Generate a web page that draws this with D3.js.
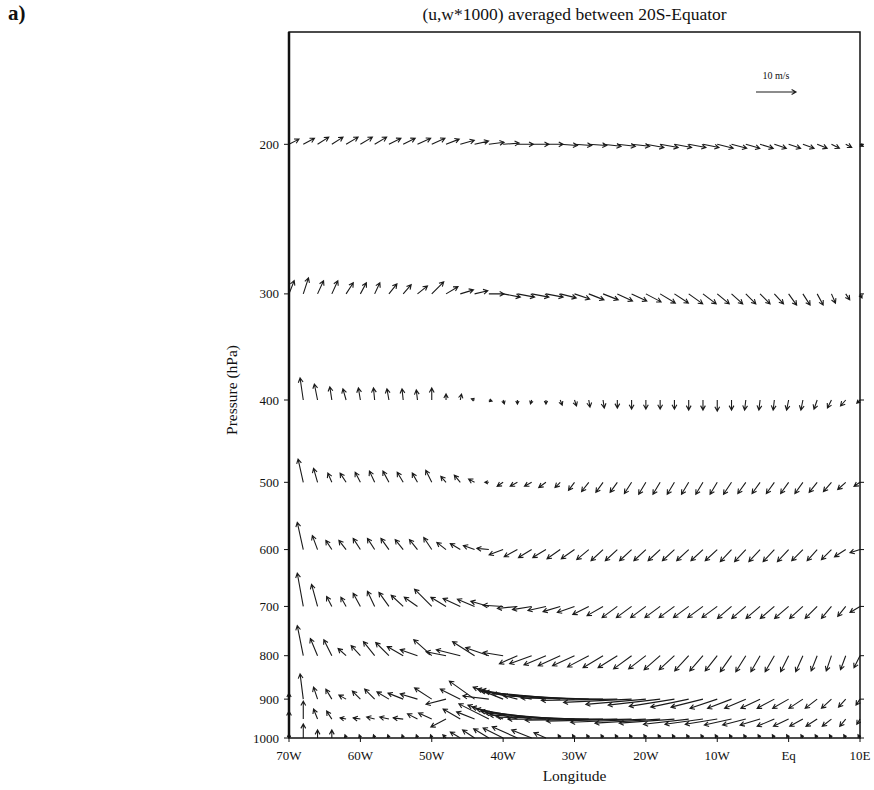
<!DOCTYPE html>
<html>
<head>
<meta charset="utf-8">
<script src="https://cdn.jsdelivr.net/npm/d3@7"></script>
<style>
  body { margin: 0; background: #fff; }
  svg text { font-family: "Liberation Serif", "Times New Roman", serif; fill: #111; }
</style>
</head>
<body>
<div id="chart"></div>
<script>
// grid: longitudes (deg, negative = west) and pressure levels (hPa)
const lons = d3.range(-70, 11, 2);
const levels = [200, 300, 400, 500, 600, 700, 800, 900, 950, 1000];

const xTicks = [-70, -60, -50, -40, -30, -20, -10, 0, 10];
const xTickLabels = ["70W", "60W", "50W", "40W", "30W", "20W", "10W", "Eq", "10E"];
const yTicks = [200, 300, 400, 500, 600, 700, 800, 900, 1000];

// u (m/s) and w*1000 for each level, 70W -> 10E
const u200 = [2.5,2.8,2.8,2.8,3.0,3.0,3.0,3.0,3.0,3.3, 3.3,3.3,3.5,3.5,3.8,4.0,4.0,4.3,4.3,4.3, 4.3,4.5,4.5,4.5,4.5,4.5,4.5,4.3,4.3,4.0, 4.0,3.8,3.5,3.3,3.0,3.0,2.8,2.5,2.0,1.5,0.8];
const w200 = [1.3,1.5,1.8,1.8,1.8,1.8,1.8,1.5,1.5,1.5, 1.5,1.3,1.0,0.8,0.5,0.3,0,0,0,-0.3, -0.3,-0.3,-0.5,-0.5,-0.5,-0.8,-0.8,-0.8,-0.8,-0.8, -1.0,-1.0,-1.0,-1.0,-1.0,-1.0,-1.0,-1.0,-1.0,-0.8,-0.5];

const u300 = [1.3,1.3,1.5,1.5,1.8,1.5,1.3,2.0,2.0,2.5, 3.0,3.0,3.3,3.3,3.8,4.3,4.3,4.3,4.3,4.0, 3.8,3.8,3.8,3.8,3.8,3.8,3.8,3.5,3.5,3.3, 3.0,2.8,2.5,2.5,2.3,2.0,1.8,1.5,1.0,1.0,0.5];
const w300 = [3.3,4.0,3.3,3.3,2.8,2.8,2.8,2.5,2.3,2.0, 3.0,1.8,1.0,0.8,0,-0.8,-0.8,-0.8,-0.8,-1.0, -1.3,-1.5,-1.5,-1.8,-1.8,-2.0,-2.3,-2.3,-2.5,-2.5, -2.5,-2.5,-2.5,-2.5,-2.5,-2.8,-2.8,-2.8,-2.3,-1.5,-1.0];

const u400 = [0,-0.8,-0.8,-0.5,-0.8,-0.5,-0.3,-0.5,-0.3,-0.3, 0,0,0.3,-0.8,0.8,0.3,0,-0.3,0,0.5, 0.5,0.3,0.3,0,0,0,0,0,0,0, 0,0,-0.3,-0.3,-0.3,-0.5,-0.5,-0.8,-1.0,-1.3,-0.8];
const w400 = [0,5.5,4.0,3.3,2.8,3.0,3.0,2.8,2.8,2.5, 3.0,1.5,1.5,0.3,-0.3,-1.0,-1.0,-1.0,-1.0,-1.3, -1.5,-1.8,-2.0,-2.0,-2.3,-2.3,-2.3,-2.3,-2.5,-2.5, -2.8,-2.5,-2.5,-2.5,-2.5,-2.5,-2.5,-2.3,-2.0,-1.5,-0.8];

const u500 = [0,-1.3,-1.0,-1.0,-1.5,-1.3,-1.3,-1.5,-1.5,-1.3, -1.5,-1.3,-1.5,-1.5,-1.0,-1.5,-1.8,-1.8,-1.8,-1.3, -1.5,-1.8,-1.8,-1.8,-1.8,-1.8,-1.8,-1.8,-1.8,-1.8, -1.8,-2.0,-2.0,-2.0,-2.0,-2.0,-2.0,-2.0,-2.0,-2.0,-1.5];
const w500 = [0,5.8,3.5,2.3,2.3,2.5,2.8,2.8,2.5,2.3, 3.0,1.5,1.8,0.8,0,-1.0,-1.0,-1.0,-1.3,-1.3, -2.0,-2.3,-2.5,-2.5,-2.8,-3.0,-3.0,-3.0,-3.0,-3.0, -3.0,-3.0,-2.8,-2.8,-2.8,-2.8,-2.8,-2.5,-2.3,-1.8,-1.0];

const u600 = [0,-1.5,-1.3,-1.5,-1.8,-1.8,-1.8,-2.0,-2.0,-2.0, -2.0,-2.3,-2.5,-2.8,-3.0,-3.5,-3.3,-3.3,-3.3,-3.3, -3.3,-3.0,-3.0,-3.0,-3.0,-3.0,-3.0,-3.0,-3.0,-3.0, -3.0,-2.8,-2.8,-2.8,-2.8,-2.8,-2.8,-2.5,-2.5,-2.8,-2.5];
const w600 = [0,6.8,3.5,2.3,2.3,2.8,2.8,2.8,2.5,2.5, 3.0,1.8,1.5,1.0,0.3,-1.3,-1.8,-2.0,-2.0,-2.3, -2.3,-2.5,-2.8,-2.8,-2.8,-2.8,-2.8,-2.8,-2.8,-2.8, -2.8,-3.0,-3.0,-3.0,-3.0,-3.0,-2.8,-2.8,-2.5,-1.8,-0.8];

const u700 = [0,-1.5,-1.5,-1.3,-1.3,-1.8,-1.8,-2.5,-3.0,-3.3, -4.3,-3.8,-4.3,-4.3,-4.5,-5.0,-5.0,-4.8,-4.5,-4.3, -4.3,-4.0,-4.0,-3.8,-3.8,-3.8,-3.8,-3.8,-3.8,-3.8, -3.8,-3.5,-3.5,-3.5,-3.5,-3.5,-3.3,-3.0,-2.5,-2.0,-2.5];
const w700 = [0,8.3,5.5,2.5,2.3,3.3,3.8,3.5,2.8,2.3, 4.3,2.3,2.0,1.8,1.3,0.3,-0.5,-0.8,-1.0,-1.3, -1.5,-2.0,-2.3,-2.8,-2.8,-2.8,-2.8,-2.8,-2.8,-2.8, -2.8,-3.0,-3.0,-3.0,-3.0,-3.0,-3.0,-3.0,-3.0,-2.5,-1.5];

const u800 = [0,-1.5,-1.8,-2.0,-2.0,-2.3,-2.8,-3.3,-4.0,-4.3, -4.5,-5.0,-6.0,-5.5,-5.8,-5.0,-4.5,-5.5,-5.5,-5.5, -5.5,-5.3,-5.0,-4.8,-4.5,-4.3,-4.0,-3.8,-3.5,-3.3, -3.0,-2.8,-2.5,-2.3,-2.3,-2.0,-1.8,-1.5,-1.3,-1.3,-1.5];
const w800 = [0,7.5,4.3,4.0,1.8,2.5,3.5,3.3,2.3,1.5, 4.0,1.0,1.5,3.5,2.0,0.8,-2.0,-2.0,-2.3,-2.5, -2.5,-2.8,-3.0,-3.0,-3.3,-3.3,-3.5,-3.5,-3.8,-3.8, -3.8,-4.0,-4.0,-4.0,-4.0,-4.0,-4.0,-3.8,-3.8,-3.5,-3.0];

const u900 = [0,-0.8,-1.0,-1.5,-1.8,-2.0,-2.5,-3.0,-3.8,-4.3, -4.3,-5.0,-5.0,-6.3,-6.5,-7.5,-10.0,-12.5,-16.3,-18.8, -20.5,-21.3,-20.5,-19.0,-17.0,-15.0,-13.0,-11.3,-9.5,-8.0, -6.8,-6.0,-5.3,-4.8,-4.3,-4.0,-3.5,-3.0,-2.5,-1.8,-1.0];
const w900 = [1.5,6.3,3.0,2.5,1.0,2.0,2.5,1.8,1.5,1.3, 2.8,-1.3,2.5,4.5,0.8,3.0,2.5,2.3,2.0,1.8, 1.3,0.8,0.3,-0.3,-0.8,-1.3,-1.5,-1.8,-2.0,-2.0, -2.3,-2.3,-2.3,-2.3,-2.3,-2.3,-2.3,-2.3,-2.3,-2.0,-1.5];

const u950 = [0,0,-1.0,-1.3,-1.5,-1.8,-2.0,-2.3,-2.5,-2.5, -3.3,-3.8,-4.3,-4.5,-7.5,-8.8,-11.3,-13.8,-16.3,-18.8, -21.3,-23.0,-23.8,-23.0,-21.3,-18.8,-16.3,-13.8,-11.3,-9.5, -8.0,-6.8,-5.8,-5.0,-4.3,-3.8,-3.3,-2.8,-2.3,-1.5,-0.8];
const w950 = [2.0,4.5,2.5,2.0,0.3,0.3,0.5,0.5,0.3,1.3, 1.5,-2.0,2.5,1.8,3.8,3.5,3.0,2.5,2.0,1.5, 1.0,0.5,0,-0.3,-0.5,-0.8,-1.0,-1.0,-1.3,-1.3, -1.3,-1.5,-1.5,-1.5,-1.8,-1.8,-1.8,-1.8,-1.8,-1.8,-1.3];

const u1000 = [0,0,0,0,-0.3,-0.3,-0.3,-0.3,-0.3,-0.3, -0.3,-0.8,-2.5,-3.0,-3.8,-5.0,-6.3,-5.0,-3.0,-0.5, -0.5,-0.5,-0.5,-0.5,-0.5,-0.5,-0.5,-0.5,-0.5,-0.5, -0.5,-0.5,-0.5,-0.5,-0.5,-0.5,-0.5,-0.5,-0.5,-0.5,-0.5];
const w1000 = [1.0,3.5,2.0,2.0,0.8,0.8,0.8,0.8,0.8,0.8, 0.8,0.8,1.5,2.0,2.3,2.5,2.8,2.0,1.3,0.8, 0.8,0.8,0.8,0.8,0.8,0.8,0.8,0.8,0.8,0.8, 0.8,0.8,0.8,0.8,0.8,0.8,0.8,0.8,0.8,0.8,0.8];

const uByLevel = [u200, u300, u400, u500, u600, u700, u800, u900, u950, u1000];
const wByLevel = [w200, w300, w400, w500, w600, w700, w800, w900, w950, w1000];

const refSpeed = 10;

const width = 874, height = 790;
const margin = { left: 289, right: 14, top: 32, bottom: 52 };

const svg = d3.select("#chart").append("svg")
    .attr("width", width)
    .attr("height", height);

const x = d3.scaleLinear().domain([-70, 10]).range([margin.left, width - margin.right]);
const y = d3.scaleLog().domain([1000, 147.5]).range([height - margin.bottom, margin.top]);
// vector length: pixels per m/s (same for w*1000)
const vScale = d3.scaleLinear().domain([0, refSpeed]).range([0, 40]);

// build vector list
const vectors = [];
levels.forEach((p, li) => {
    lons.forEach((lon, i) => {
        vectors.push({ lon, p, u: uByLevel[li][i], w: wByLevel[li][i] });
    });
});

function arrowPath(x0, y0, dx, dy) {
    const len = Math.hypot(dx, dy);
    if (len < 0.8) return "";
    const x1 = x0 + dx, y1 = y0 + dy;
    const h = Math.min(5, 0.5 * len + 1.5);
    const a = Math.atan2(dy, dx);
    const sp = 0.5;
    const ax = x1 - h * Math.cos(a - sp), ay = y1 - h * Math.sin(a - sp);
    const bx = x1 - h * Math.cos(a + sp), by = y1 - h * Math.sin(a + sp);
    return `M${x0},${y0}L${x1},${y1}M${ax},${ay}L${x1},${y1}L${bx},${by}`;
}

// vectors
svg.append("g")
    .selectAll("path")
    .data(vectors)
    .enter()
    .append("path")
    .attr("d", d => arrowPath(x(d.lon), y(d.p), vScale(d.u), -vScale(d.w)))
    .attr("fill", "none")
    .attr("stroke", "#1a1a1a")
    .attr("stroke-width", 1.1);

// frame
const x0 = x(-70), x1 = x(10), yTop = y(147.5), yBot = y(1000);
svg.append("rect")
    .attr("x", x0).attr("y", yTop)
    .attr("width", x1 - x0).attr("height", yBot - yTop)
    .attr("fill", "none")
    .attr("stroke", "#111")
    .attr("stroke-width", 1.5);
svg.append("line")
    .attr("x1", x0).attr("x2", x0).attr("y1", yTop).attr("y2", yBot)
    .attr("stroke", "#111").attr("stroke-width", 2.5);

// y axis ticks / labels
const yAxis = svg.append("g");
yAxis.selectAll("line.l").data(yTicks).enter().append("line")
    .attr("x1", x0 - 5).attr("x2", x0)
    .attr("y1", d => y(d)).attr("y2", d => y(d))
    .attr("stroke", "#111").attr("stroke-width", 1);
yAxis.selectAll("line.r").data(yTicks).enter().append("line")
    .attr("x1", x1).attr("x2", x1 + 4)
    .attr("y1", d => y(d)).attr("y2", d => y(d))
    .attr("stroke", "#111").attr("stroke-width", 1);
yAxis.selectAll("text").data(yTicks).enter().append("text")
    .attr("x", x0 - 10)
    .attr("y", d => y(d))
    .attr("dy", "0.35em")
    .attr("text-anchor", "end")
    .attr("font-size", 13)
    .text(d => d);

// x axis ticks / labels
const xAxis = svg.append("g");
xAxis.selectAll("line").data(xTicks).enter().append("line")
    .attr("x1", d => x(d)).attr("x2", d => x(d))
    .attr("y1", yBot).attr("y2", yBot + 4)
    .attr("stroke", "#111").attr("stroke-width", 1);
xAxis.selectAll("text").data(xTicks).enter().append("text")
    .attr("x", d => x(d))
    .attr("y", yBot + 22)
    .attr("text-anchor", "middle")
    .attr("font-size", 13)
    .text((d, i) => xTickLabels[i]);

// axis titles
svg.append("text")
    .attr("x", (x0 + x1) / 2).attr("y", 781)
    .attr("text-anchor", "middle")
    .attr("font-size", 15.5)
    .text("Longitude");
svg.append("text")
    .attr("transform", `translate(237,390) rotate(-90)`)
    .attr("text-anchor", "middle")
    .attr("font-size", 15.5)
    .text("Pressure (hPa)");

// title + panel letter
svg.append("text")
    .attr("x", (x0 + x1) / 2).attr("y", 20)
    .attr("text-anchor", "middle")
    .attr("font-size", 17.5)
    .text("(u,w*1000) averaged between 20S-Equator");
svg.append("text")
    .attr("x", 8).attr("y", 20)
    .attr("font-size", 21)
    .attr("font-weight", "bold")
    .text("a)");

// reference vector
const refX = 756, refY = 92;
svg.append("path")
    .attr("d", arrowPath(refX, refY, vScale(refSpeed), 0))
    .attr("fill", "none")
    .attr("stroke", "#1a1a1a")
    .attr("stroke-width", 1.1);
svg.append("text")
    .attr("x", refX + vScale(refSpeed) / 2).attr("y", 79)
    .attr("text-anchor", "middle")
    .attr("font-size", 10)
    .text(`${refSpeed} m/s`);
</script>
</body>
</html>
